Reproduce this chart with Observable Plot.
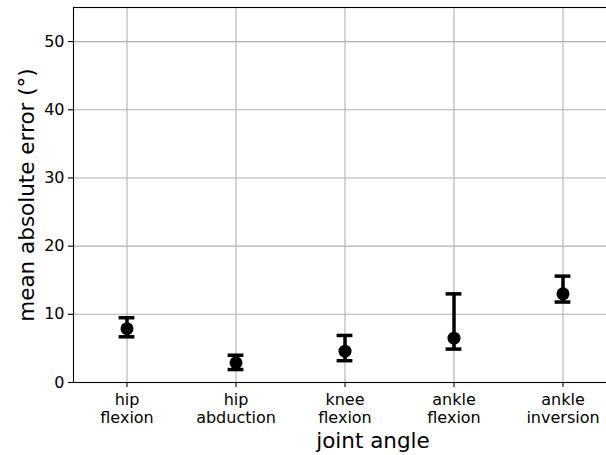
<!DOCTYPE html>
<html>
<head>
<meta charset="utf-8">
<script src="https://cdn.jsdelivr.net/npm/d3@7"></script>
<script src="https://cdn.jsdelivr.net/npm/@observablehq/plot@0.6"></script>
<style>
  html, body { margin: 0; padding: 0; background: #fff; overflow: hidden; }
  #chart svg { overflow: hidden; display: block; }
</style>
</head>
<body>
<div id="chart"></div>
<script>
const categories = ["hip flexion", "hip abduction", "knee flexion", "ankle flexion", "ankle inversion"];
const tickLabels = ["hip\nflexion", "hip\nabduction", "knee\nflexion", "ankle\nflexion", "ankle\ninversion"];
const meanErr = [7.9, 2.9, 4.6, 6.5, 13.0];
const lowErr  = [6.7, 1.9, 3.2, 4.9, 11.8];
const highErr = [9.5, 4.0, 6.9, 13.0, 15.6];
const yTicks = [0, 10, 20, 30, 40, 50];
const xTitle = "joint angle";
const yTitle = "mean absolute error (°)";

const data = categories.map((c, i) => ({joint: c, mean: meanErr[i], lo: lowErr[i], hi: highErr[i]}));
const labelOf = new Map(categories.map((c, i) => [c, tickLabels[i]]));

const font = "DejaVu Sans, sans-serif";
const capInset = 46.6;
const plot = Plot.plot({
  width: 606,
  height: 455,
  marginLeft: 73,
  marginRight: -66,
  marginTop: 7,
  marginBottom: 73,
  style: {fontFamily: font, background: "#fff", color: "#000"},
  x: {type: "band", domain: categories, range: [72.1, 617.9], padding: 0},
  y: {domain: [0, 55], ticks: yTicks},
  marks: [
    Plot.gridX(categories, {stroke: "#b0b0b0", strokeOpacity: 1, strokeWidth: 1.1}),
    Plot.gridY(yTicks, {stroke: "#b0b0b0", strokeOpacity: 1, strokeWidth: 1.1}),
    Plot.frame({stroke: "#000", strokeWidth: 1.1}),
    Plot.axisY(yTicks, {tickSize: 5, tickPadding: 4, fontSize: 16, label: null, stroke: "#000", strokeWidth: 1.1}),
    Plot.axisX(categories, {tickSize: 5, tickPadding: 4, fontSize: 16, label: null, lineHeight: 1.15,
      tickFormat: (d) => labelOf.get(d), stroke: "#000", strokeWidth: 1.1}),
    Plot.ruleX(data, {x: "joint", y1: "lo", y2: "hi", stroke: "#000", strokeWidth: 3.5}),
    Plot.tickY(data, {x: "joint", y: "lo", stroke: "#000", strokeWidth: 3.5, insetLeft: capInset, insetRight: capInset}),
    Plot.tickY(data, {x: "joint", y: "hi", stroke: "#000", strokeWidth: 3.5, insetLeft: capInset, insetRight: capInset}),
    Plot.dot(data, {x: "joint", y: "mean", r: 6.5, fill: "#000", stroke: "none"}),
    Plot.text([xTitle], {frameAnchor: "bottom", dy: 65, lineAnchor: "bottom", fontSize: 21.5, fill: "#000"}),
    Plot.text([yTitle], {frameAnchor: "left", dx: -40, rotate: -90, textAnchor: "middle", lineAnchor: "bottom", fontSize: 21.5, fill: "#000"})
  ]
});
document.getElementById("chart").appendChild(plot);
</script>
</body>
</html>
